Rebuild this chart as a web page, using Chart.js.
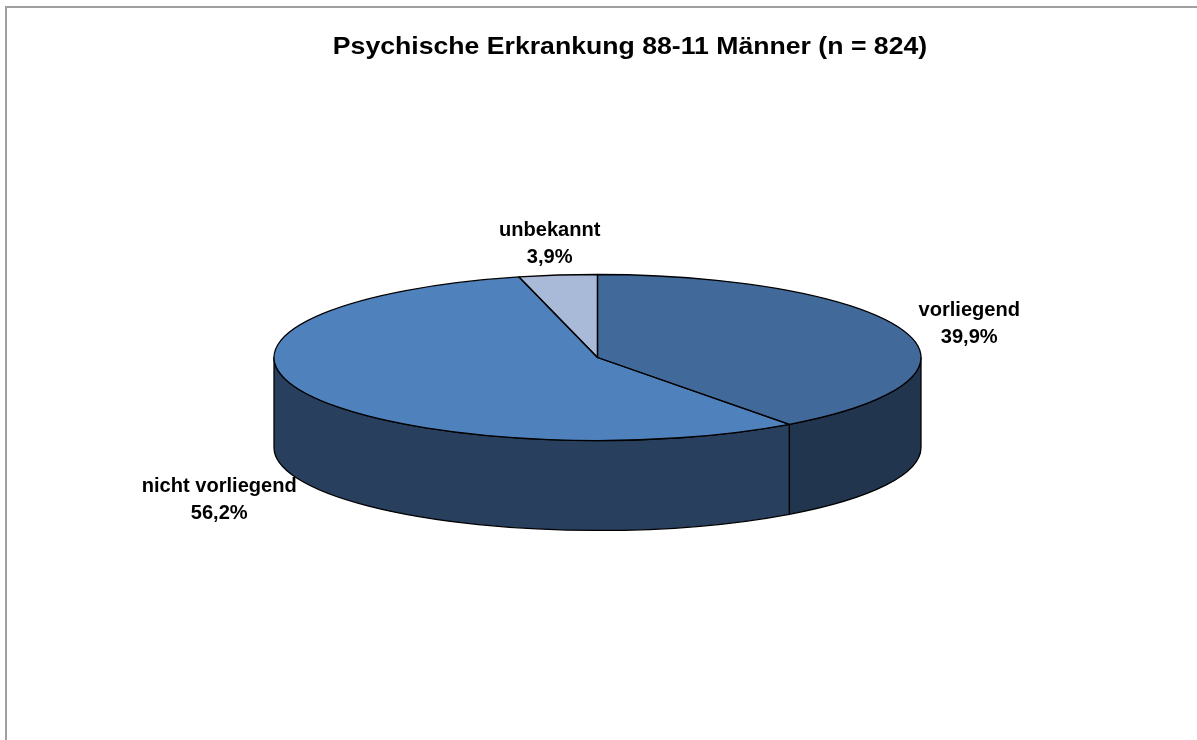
<!DOCTYPE html>
<html>
<head>
<meta charset="utf-8">
<script src="https://cdn.jsdelivr.net/npm/chart.js@4/dist/chart.umd.min.js"></script>
<style>
html,body{margin:0;padding:0;background:#fff;}
#wrap{position:relative;width:1197px;height:740px;}
</style>
</head>
<body>
<div id="wrap"><canvas id="c" width="1197" height="740"></canvas></div>
<script>
const chartTitle = 'Psychische Erkrankung 88-11 Männer (n = 824)';
const categories = ['vorliegend', 'nicht vorliegend', 'unbekannt'];
const values = [39.9, 56.2, 3.9];
const percentLabels = values.map(v => v.toFixed(1).replace('.', ',') + '%');

const topColors = ['#416A9B', '#4F81BD', '#A9B9D8'];
const wallColors = ['#22354E', '#283F5E', '#56647C'];

const TILT = 0.2566;   // vertical squash of the pie disc
const DEPTH = 0.278;   // wall height relative to radius
const FONT = '"Liberation Sans", Arial, sans-serif';

function arcGeom(arc) {
  return arc.getProps(['x', 'y', 'startAngle', 'endAngle', 'outerRadius'], true);
}

function stretchedText(ctx, text, x, y, sx) {
  ctx.save();
  ctx.translate(x, y);
  ctx.scale(sx, 1);
  ctx.fillText(text, 0, 0);
  ctx.restore();
}

const pie3d = {
  id: 'pie3d',
  beforeDraw(chart) {
    const ctx = chart.ctx;
    ctx.save();
    ctx.strokeStyle = '#a0a0a0';
    ctx.lineWidth = 2;
    ctx.beginPath();
    ctx.moveTo(6, 760);
    ctx.lineTo(6, 7);
    ctx.lineTo(1220, 7);
    ctx.stroke();
    ctx.restore();
  },
  beforeDatasetsDraw(chart) {
    const ctx = chart.ctx;
    const meta = chart.getDatasetMeta(0);
    let cx = 0, cy = 0;
    meta.data.forEach((arc, i) => {
      const g = arcGeom(arc);
      cx = g.x; cy = g.y;
      const r = g.outerRadius, ry = r * TILT, d = r * DEPTH;
      for (let k = -1; k <= 1; k++) {
        const lo = Math.max(g.startAngle, 2 * Math.PI * k);
        const hi = Math.min(g.endAngle, 2 * Math.PI * k + Math.PI);
        if (hi > lo) {
          ctx.save();
          ctx.beginPath();
          ctx.ellipse(g.x, g.y, r, ry, 0, lo, hi, false);
          ctx.lineTo(g.x + r * Math.cos(hi), g.y + ry * Math.sin(hi) + d);
          ctx.ellipse(g.x, g.y + d, r, ry, 0, hi, lo, true);
          ctx.closePath();
          ctx.fillStyle = wallColors[i];
          ctx.fill();
          ctx.strokeStyle = '#000';
          ctx.lineWidth = 1.3;
          ctx.lineJoin = 'round';
          ctx.stroke();
          ctx.restore();
        }
      }
    });
    ctx.save();
    ctx.translate(cx, cy);
    ctx.scale(1, TILT);
    ctx.translate(-cx, -cy);
  },
  afterDatasetsDraw(chart) {
    const ctx = chart.ctx;
    ctx.restore();
    const meta = chart.getDatasetMeta(0);
    meta.data.forEach((arc, i) => {
      const g = arcGeom(arc);
      const r = g.outerRadius, ry = r * TILT;
      ctx.save();
      ctx.beginPath();
      ctx.moveTo(g.x, g.y);
      ctx.lineTo(g.x + r * Math.cos(g.startAngle), g.y + ry * Math.sin(g.startAngle));
      ctx.ellipse(g.x, g.y, r, ry, 0, g.startAngle, g.endAngle, false);
      ctx.closePath();
      ctx.strokeStyle = '#000';
      ctx.lineWidth = 1.3;
      ctx.lineJoin = 'round';
      ctx.stroke();
      ctx.restore();
    });
    // data labels
    ctx.save();
    ctx.font = 'bold 19.5px ' + FONT;
    ctx.fillStyle = '#000';
    ctx.textAlign = 'center';
    ctx.textBaseline = 'middle';
    const lh = 27, gapX = 17, gapY = 7, sx = 1.03, dropY = 3;
    meta.data.forEach((arc, i) => {
      const g = arcGeom(arc);
      const r = g.outerRadius, ry = r * TILT, d = r * DEPTH;
      const a = (g.startAngle + g.endAngle) / 2;
      const ax = g.x + r * Math.cos(a);
      const ay = g.y + ry * Math.sin(a) + (Math.sin(a) > 0 ? d : 0);
      const halfW = sx * Math.max(ctx.measureText(categories[i]).width, ctx.measureText(percentLabels[i]).width) / 2;
      const tx = ax + Math.cos(a) * (halfW + gapX);
      const ty = ay + Math.sin(a) * (lh + gapY) + dropY;
      stretchedText(ctx, categories[i], tx, ty - lh / 2, sx);
      stretchedText(ctx, percentLabels[i], tx, ty + lh / 2, sx);
    });
    // title
    ctx.font = 'bold 24.5px ' + FONT;
    ctx.textBaseline = 'alphabetic';
    stretchedText(ctx, chartTitle, 630, 53.5, 1.087);
    ctx.restore();
  }
};

new Chart(document.getElementById('c'), {
  type: 'pie',
  data: {
    labels: categories,
    datasets: [{
      data: values,
      backgroundColor: topColors,
      borderWidth: 0,
      hoverOffset: 0
    }]
  },
  options: {
    responsive: false,
    animation: false,
    events: [],
    layout: { padding: { left: 274, right: 276, top: 34, bottom: 59 } },
    plugins: {
      legend: { display: false },
      tooltip: { enabled: false },
      title: { display: false }
    }
  },
  plugins: [pie3d]
});
</script>
</body>
</html>
